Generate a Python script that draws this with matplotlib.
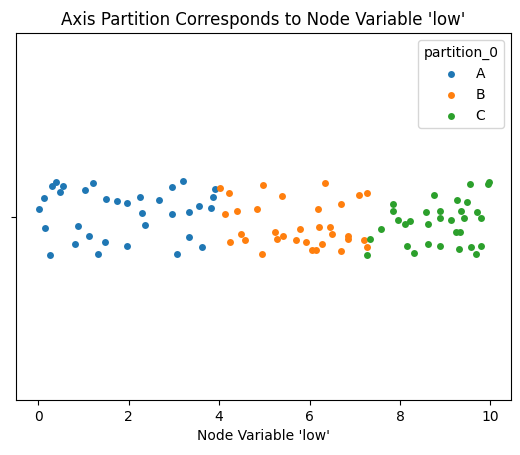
import numpy as np
import matplotlib.pyplot as plt

# node variable 'low' values and the strip jitter
low_A = [0.01, 0.13, 0.14, 0.26, 0.31, 0.39, 0.49, 0.56, 0.82, 0.88, 1.03, 1.13,
         1.22, 1.33, 1.47, 1.49, 1.74, 1.97, 1.96, 2.25, 2.29, 2.37, 2.68, 2.96,
         2.96, 3.20, 3.08, 3.34, 3.34, 3.90, 3.87, 3.56, 3.82, 3.63]
jit_A = [-0.020, -0.051, 0.032, 0.104, -0.083, -0.095, -0.068, -0.084, 0.075, 0.025,
         -0.073, 0.052, -0.091, 0.101, 0.068, -0.048, -0.043, 0.079, -0.037, -0.054,
         -0.009, 0.023, -0.046, -0.080, -0.008, -0.096, 0.101, -0.012, 0.057, -0.074,
         -0.054, -0.028, -0.023, 0.084]

low_B = [4.02, 4.21, 4.12, 4.39, 4.24, 4.49, 4.58, 4.84, 4.98, 4.95, 5.23, 5.28,
         5.42, 5.39, 5.70, 5.78, 5.92, 6.05, 6.14, 6.18, 6.21, 6.28, 6.35, 6.45,
         6.49, 6.69, 6.70, 6.84, 6.86, 7.10, 7.28, 7.20, 7.28]
jit_B = [-0.079, -0.065, -0.006, -0.016, 0.070, 0.048, 0.063, -0.022, -0.087, 0.103,
         0.043, 0.060, 0.054, -0.057, 0.065, 0.034, 0.069, 0.091, 0.091, -0.022,
         0.029, 0.074, -0.091, 0.028, 0.048, -0.033, 0.093, 0.053, 0.062, -0.058,
         -0.065, 0.063, 0.082]

low_C = [7.33, 7.28, 7.57, 7.85, 7.84, 7.95, 8.12, 8.21, 8.15, 8.32, 8.57, 8.62,
         8.76, 8.62, 8.88, 8.89, 8.88, 9.12, 9.26, 9.48, 9.34, 9.41, 9.24, 9.33,
         9.31, 9.54, 9.71, 9.80, 9.56, 9.67, 9.79, 9.95, 9.96]
jit_C = [0.061, 0.104, 0.035, -0.034, -0.014, 0.008, 0.021, 0.012, 0.079, 0.099,
         -0.013, 0.020, -0.059, 0.075, -0.016, 0.003, 0.079, 0.009, -0.046, -0.040,
         -0.014, 0.003, 0.042, 0.042, 0.088, -0.088, -0.013, 0.003, 0.082, 0.103,
         0.079, -0.090, -0.095]

parts = ['A', 'B', 'C']
colors = ['#1f77b4', '#ff7f0e', '#2ca02c']

fig, ax = plt.subplots(figsize=(5.2, 4.55), dpi=100)
fig.subplots_adjust(left=0.031, right=0.983, top=0.927, bottom=0.121)

for lab, xs, js, c in zip(parts, [low_A, low_B, low_C], [jit_A, jit_B, jit_C], colors):
    ax.scatter(xs, js, s=25, color=c, linewidth=0, label=lab)

ax.set_ylim(0.5, -0.5)
ax.set_yticks([0])
ax.set_yticklabels([''])
ax.set_xlabel("Node Variable 'low'")
ax.set_title("Axis Partition Corresponds to Node Variable 'low'")
ax.legend(title='partition_0', loc='upper right')

fig.savefig('out.png')
